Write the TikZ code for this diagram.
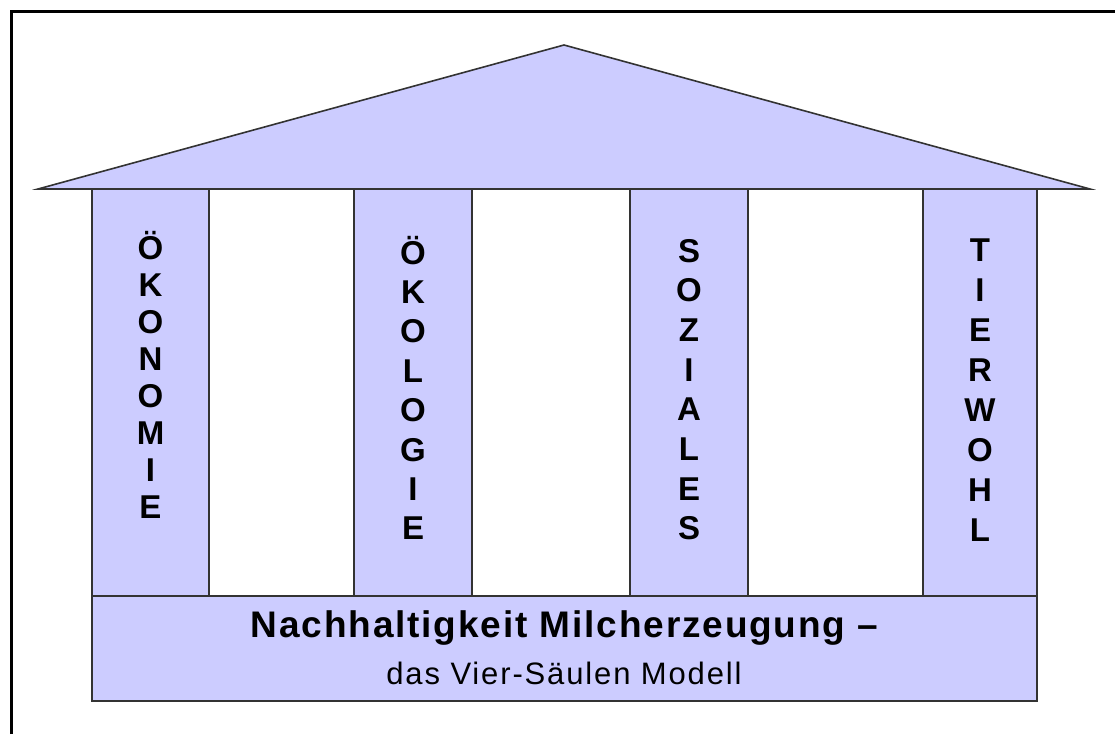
\documentclass[tikz,border=0pt]{standalone}
\usepackage{fontspec}
\setmainfont{Liberation Sans}
\newfontfamily\titlefont[LetterSpace=5]{Liberation Sans}
\newfontfamily\subfont[LetterSpace=6]{Liberation Sans}
\definecolor{lav}{HTML}{CCCCFF}
\begin{document}
\begin{tikzpicture}[x=1pt,y=-1pt,line join=miter,
    part/.style={draw=black!80,fill=lav,line width=1.6pt},
    letter/.style={anchor=base,inner sep=0pt,font=\fontsize{33}{33}\selectfont\bfseries}]
            \useasboundingbox (0,0) rectangle (1115,734);
            \draw[line width=3pt] (11.5,734)--(11.5,11.5)--(1115,11.5);
            \draw[part] (38,189)--(564,45)--(1090,189)--cycle;
            \draw[part] (92,189) rectangle (209,596);
            \draw[part] (354,189) rectangle (472,596);
            \draw[part] (630,189) rectangle (748,596);
            \draw[part] (923,189) rectangle (1037,596);
            \draw[part] (92,596) rectangle (1037,701);
            \foreach \l [count=\i] in {Ö,K,O,N,O,M,I,E}
                \node[letter] (oeko-\i) at (150.5,{259+37*(\i-1)}) {\l};
            \foreach \l [count=\i] in {Ö,K,O,L,O,G,I,E}
                \node[letter] (oekl-\i) at (413,{264+39.4*(\i-1)}) {\l};
            \foreach \l [count=\i] in {S,O,Z,I,A,L,E,S}
                \node[letter] (soz-\i) at (689,{262+39.7*(\i-1)}) {\l};
            \foreach \l [count=\i] in {T,I,E,R,W,O,H,L}
                \node[letter] (tier-\i) at (980,{261+40*(\i-1)}) {\l};
            \node[anchor=base,inner sep=0pt,font=\fontsize{37}{37}\titlefont\bfseries] (title) at (564.5,637) {Nachhaltigkeit Milcherzeugung \textendash};
            \node[anchor=base,inner sep=0pt,font=\fontsize{31}{31}\subfont] (sub) at (564,684) {das Vier-Säulen Modell};
        \end{tikzpicture}
\end{document}
